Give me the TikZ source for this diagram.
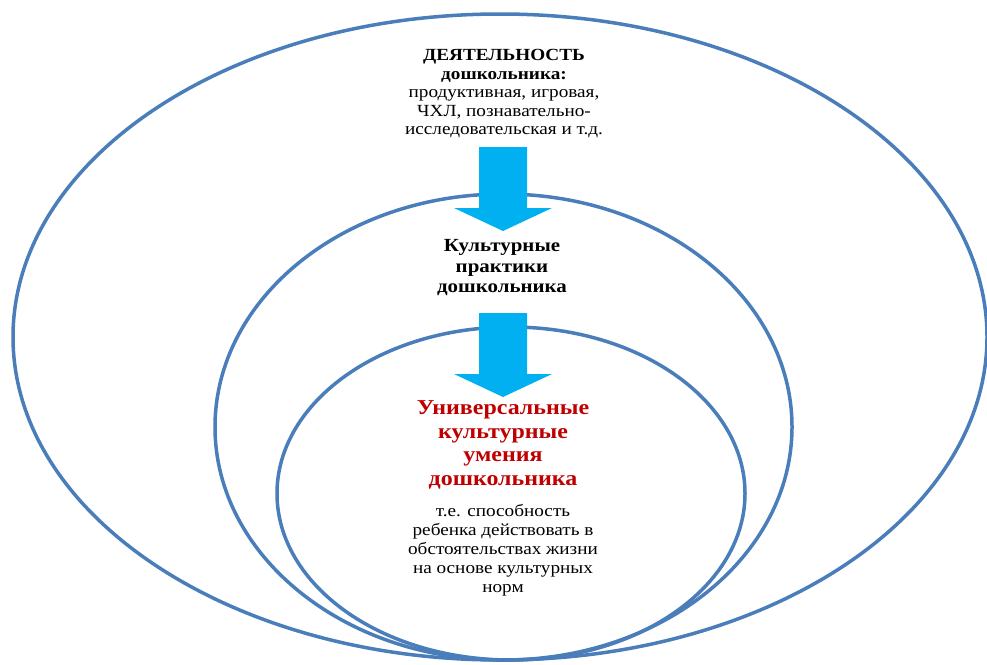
\documentclass[tikz,border=0pt]{standalone}
\usepackage{fontspec}
\setmainfont{Liberation Serif}[FakeStretch=1.13]
\usetikzlibrary{calc}

\definecolor{ringblue}{RGB}{74,126,187}
\definecolor{arrowcyan}{RGB}{0,176,240}
\definecolor{skillred}{RGB}{192,0,0}

\begin{document}
\begin{tikzpicture}[x=1pt,y=-1pt]
\tikzset{ring/.style = {draw=ringblue,line width=3.5pt}}
\tikzset{label/.style = {align=center,inner sep=0pt}}
\tikzset{blockarrow/.style = {fill=arrowcyan,draw=none}}
\useasboundingbox (0,0) rectangle (987,664);
% three nested rings touching at the bottom
\draw[ring] (500,337) ellipse [x radius=487pt, y radius=323pt];
\draw[ring] (503.5,427) ellipse [x radius=288.5pt, y radius=233pt];
\draw[ring] (511,493.5) ellipse [x radius=234pt, y radius=166.5pt];
% block arrows
\foreach \top in {147,313}
  \fill[blockarrow] (479,\top) -- (527,\top) -- (527,\top+61) -- (552,\top+61)
    -- (503,\top+84) -- (454,\top+61) -- (479,\top+61) -- cycle;
\node[label,font=\fontsize{17}{18.5}\selectfont] (activity) at (504,94)
  {\textbf{ДЕЯТЕЛЬНОСТЬ}\\ \textbf{дошкольника:}\\ продуктивная, игровая,\\
   ЧХЛ, познавательно-\\ исследовательская и т.д.};
\node[label,font=\fontsize{18.5}{20.5}\selectfont\bfseries] (practice) at (502,268)
  {Культурные\\ практики\\ дошкольника};
\node[label,font=\fontsize{21.2}{23.5}\selectfont\bfseries,text=skillred] (skills) at (503,445)
  {Универсальные\\ культурные\\ умения\\ дошкольника};
\node[label,font=\fontsize{17}{19}\selectfont] (meaning) at (503,550)
  {т.е. способность\\ ребенка действовать в\\ обстоятельствах жизни\\
   на основе культурных\\ норм};
\end{tikzpicture}
\end{document}
